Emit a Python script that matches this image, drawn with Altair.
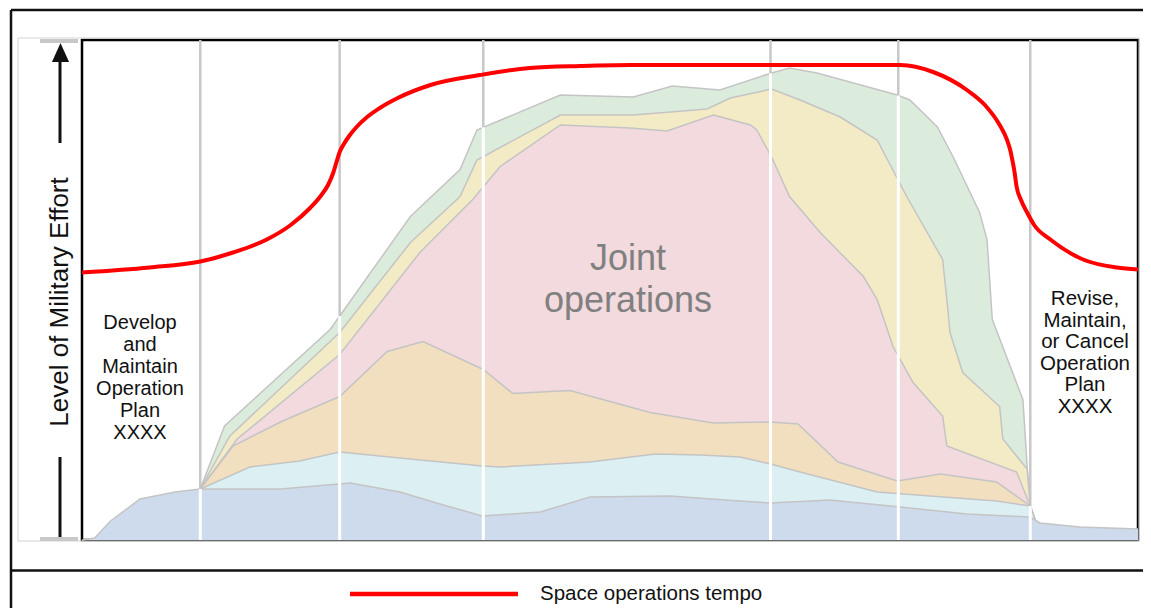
import altair as alt
import pandas as pd
import numpy as np

# ---- data (x: campaign time 0-100, y: level of military effort 0-100) ----
green_x = [11.2, 13.5, 23.5, 31.1, 35.8, 37.4, 45.3, 52.2, 55.9, 60.4, 65.3, 67.0, 69.6, 77.2, 78.4, 81.0, 82.5, 85.0, 85.7, 86.2, 89.1, 89.5, 89.8, 90.3]
green_y = [10.2, 22.8, 42.1, 64.7, 74.1, 82.0, 89.0, 88.6, 90.8, 90.0, 93.4, 94.4, 93.4, 89.0, 88.0, 82.6, 76.6, 65.5, 60.1, 44.1, 28.1, 14.8, 6.8, 3.8]

yellow_x = [11.2, 14.0, 24.4, 31.1, 35.8, 37.4, 45.3, 52.2, 59.2, 61.4, 65.3, 68.0, 71.8, 75.3, 78.1, 81.5, 81.9, 82.2, 83.4, 86.9, 87.2, 89.5, 89.8, 90.3]
yellow_y = [10.2, 20.8, 41.5, 59.5, 68.7, 76.0, 85.0, 85.0, 86.2, 88.4, 90.2, 88.0, 84.6, 80.0, 68.7, 56.1, 48.1, 41.5, 33.5, 26.7, 20.2, 14.2, 6.8, 3.8]

pink_x = [11.2, 14.7, 24.4, 32.0, 37.0, 39.6, 45.3, 51.9, 55.4, 59.8, 63.3, 63.9, 65.3, 67.0, 69.9, 74.0, 75.3, 76.8, 78.7, 81.5, 81.9, 88.5, 89.8, 90.3]
pink_y = [10.2, 20.2, 37.1, 57.5, 68.1, 74.7, 83.0, 82.4, 81.8, 85.0, 83.0, 82.0, 76.6, 68.7, 61.5, 52.7, 48.1, 38.7, 31.5, 24.8, 18.8, 13.6, 6.8, 3.8]

orange_x = [11.2, 14.3, 19.0, 24.4, 28.9, 32.3, 38.0, 40.8, 46.2, 53.8, 59.8, 65.2, 67.8, 71.6, 77.2, 81.3, 86.6, 89.8, 90.3]
orange_y = [10.2, 18.8, 23.8, 28.7, 37.7, 39.7, 34.1, 29.3, 29.9, 25.5, 23.4, 23.6, 23.2, 15.6, 11.8, 13.2, 11.6, 6.8, 3.8]

cyan_x = [11.2, 15.9, 20.6, 24.4, 30.1, 37.9, 39.6, 48.1, 54.3, 58.5, 62.3, 65.2, 68.0, 75.3, 86.6, 89.8, 90.3]
cyan_y = [10.2, 14.6, 15.8, 17.6, 16.4, 14.8, 14.6, 15.6, 17.2, 17.0, 16.6, 15.2, 13.6, 9.6, 7.8, 6.8, 3.8]

blue_x = [0.0, 1.2, 2.7, 5.5, 8.8, 11.2, 18.8, 25.4, 30.1, 33.9, 37.9, 43.4, 48.1, 55.7, 62.3, 65.2, 70.8, 77.5, 83.8, 89.8, 90.7, 94.5, 100.0]
blue_y = [0.0, 0.4, 3.8, 8.2, 9.6, 10.2, 10.2, 11.4, 9.6, 7.2, 4.8, 5.6, 8.6, 8.8, 7.8, 7.4, 8.0, 6.6, 5.2, 4.6, 3.4, 2.6, 2.2]

tempo_x = [0.0, 6.4, 11.2, 14.3, 17.5, 19.7, 21.6, 22.6, 23.3, 23.8, 24.1, 24.4, 24.8, 25.3, 26.0, 27.0, 28.2, 29.9, 33.0, 37.7, 42.4, 47.2, 51.9,
           77.5, 80.6, 83.8, 85.5, 86.9, 87.6, 87.9, 88.1, 88.3, 88.5, 88.9, 89.5, 90.2, 91.7, 94.8, 98.0, 100.0]
tempo_y = [53.5, 54.5, 55.7, 57.5, 60.1, 62.9, 66.4, 68.8, 71.0, 73.5, 75.6, 77.6, 79.2, 80.8, 82.6, 84.6, 86.4, 88.4, 91.0, 93.0, 94.4, 94.8, 95.0,
           95.0, 93.6, 90.0, 87.0, 83.0, 80.0, 78.0, 76.0, 73.7, 70.7, 68.1, 65.5, 62.9, 60.1, 56.1, 54.5, 54.1]

phase_x = [11.2, 24.4, 38.0, 65.2, 77.3, 89.8]

series_names = ["green", "yellow", "pink", "orange", "cyan", "blue"]
series_colors = ["#dcecdc", "#f3eac6", "#f2dade", "#f2dfc0", "#dcf0f3", "#cddbed"]
series_data = [(green_x, green_y), (yellow_x, yellow_y), (pink_x, pink_y),
               (orange_x, orange_y), (cyan_x, cyan_y), (blue_x, blue_y)]

left_text = "Develop\nand\nMaintain\nOperation\nPlan\nXXXX"
right_text = "Revise,\nMaintain,\nor Cancel\nOperation\nPlan\nXXXX"
center_text = "Joint\noperations"
y_title = "Level of Military Effort"
legend_label = "Space operations tempo"

FONT = "Liberation Sans"
W, H = 1056, 500

xs = alt.Scale(domain=[0, 100], nice=False, zero=False)
ys = alt.Scale(domain=[0, 100], nice=False, zero=False)
X = lambda f: alt.X(f, type="quantitative", scale=xs, axis=None)
Y = lambda f: alt.Y(f, type="quantitative", scale=ys, axis=None)

one = pd.DataFrame({"k": [0]})
layers = []

# faint outer box around axis region
layers.append(alt.Chart(one).mark_rect(fill=None, stroke="#d4d4d4", strokeWidth=1).encode(
    x=alt.value(-64), x2=alt.value(W + 1), y=alt.value(-2), y2=alt.value(H + 1)))

# gray phase dividers
ph = pd.DataFrame({"x": phase_x})
top_at = []
for px in phase_x:
    vals = [np.interp(px, sx, sy, left=0, right=0) for sx, sy in series_data]
    top_at.append(max(vals))
ph["top"] = top_at
layers.append(alt.Chart(ph).mark_rule(color="#c8c8c8", strokeWidth=2.5).encode(
    x=X("x"), y=alt.value(0), y2=alt.value(H)))

# stacked-looking areas, drawn back to front
for name, col, (sx, sy) in zip(series_names, series_colors, series_data):
    df = pd.DataFrame({"x": sx, "y": sy})
    layers.append(alt.Chart(df).mark_area(color=col, opacity=1, interpolate="linear").encode(
        x=X("x"), y=Y("y")))
    layers.append(alt.Chart(df).mark_line(color="#c4c4c4", strokeWidth=1.5, interpolate="linear").encode(
        x=X("x"), y=Y("y")))

# white divider segments within the areas
layers.append(alt.Chart(ph).mark_rule(color="white", strokeWidth=3).encode(
    x=X("x"), y=Y("top"), y2=alt.value(H)))

# text inside plot
layers.append(alt.Chart(one).mark_text(font=FONT, fontSize=36, color="#808080", align="center",
                                       baseline="alphabetic", lineBreak="\n", lineHeight=42).encode(
    x=alt.value(546), y=alt.value(230), text=alt.value(center_text)))
layers.append(alt.Chart(one).mark_text(font=FONT, fontSize=20, color="#111111", align="center",
                                       baseline="alphabetic", lineBreak="\n", lineHeight=22).encode(
    x=alt.value(58), y=alt.value(289), text=alt.value(left_text)))
layers.append(alt.Chart(one).mark_text(font=FONT, fontSize=20.5, color="#111111", align="center",
                                       baseline="alphabetic", lineBreak="\n", lineHeight=21.5).encode(
    x=alt.value(1003), y=alt.value(265), text=alt.value(right_text)))

# tempo line
tdf = pd.DataFrame({"x": tempo_x, "y": tempo_y})
layers.append(alt.Chart(tdf).mark_line(color="#ff0000", strokeWidth=4, interpolate="monotone").encode(
    x=X("x"), y=Y("y")))

# y-axis title with arrow
layers.append(alt.Chart(one).mark_text(font=FONT, fontSize=26, color="#111111", angle=270,
                                       align="center", baseline="middle").encode(
    x=alt.value(-22), y=alt.value(262), text=alt.value(y_title)))
layers.append(alt.Chart(one).mark_rule(color="#111111", strokeWidth=3).encode(
    x=alt.value(-22), y=alt.value(20), y2=alt.value(103)))
layers.append(alt.Chart(one).mark_rule(color="#111111", strokeWidth=3).encode(
    x=alt.value(-22), y=alt.value(417), y2=alt.value(497)))
layers.append(alt.Chart(one).mark_point(shape="M0,-1L-0.9,1L0.9,1Z", filled=True, color="#111111",
                                        size=361, opacity=1).encode(
    x=alt.value(-21.5), y=alt.value(12.5)))
for yy in [1, 499]:
    layers.append(alt.Chart(one).mark_rule(color="#c8c8c8", strokeWidth=4).encode(
        x=alt.value(-42), x2=alt.value(-4), y=alt.value(yy)))

# outer frame
layers.append(alt.Chart(one).mark_rule(color="#111111", strokeWidth=2.5).encode(
    x=alt.value(-71), y=alt.value(-30), y2=alt.value(600)))
layers.append(alt.Chart(one).mark_rule(color="#111111", strokeWidth=2.5).encode(
    x=alt.value(-71), x2=alt.value(1100), y=alt.value(-30)))
layers.append(alt.Chart(one).mark_rule(color="#111111", strokeWidth=2.5).encode(
    x=alt.value(-71), x2=alt.value(1100), y=alt.value(530.5)))

# legend
layers.append(alt.Chart(one).mark_rule(color="#ff0000", strokeWidth=4.5).encode(
    x=alt.value(268), x2=alt.value(436), y=alt.value(554)))
layers.append(alt.Chart(one).mark_text(font=FONT, fontSize=20.5, color="#111111", align="left",
                                       baseline="middle").encode(
    x=alt.value(458), y=alt.value(554), text=alt.value(legend_label)))

chart = alt.layer(*layers).properties(
    width=W, height=H,
    autosize=alt.AutoSizeParams(type="none"),
    padding={"left": 74, "top": 32, "right": 5, "bottom": 68},
    background="white",
).configure_view(stroke="#000000", strokeWidth=2.5)

chart.save("out.html", embed_options={"renderer": "svg", "actions": False})
